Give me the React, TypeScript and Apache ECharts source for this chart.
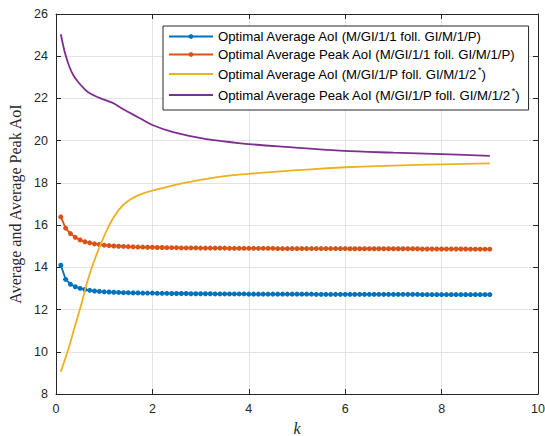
import React, { useEffect, useRef } from "react";
import * as echarts from "echarts";

const kMarked = [
  0.1, 0.2, 0.3, 0.4, 0.5, 0.6, 0.7, 0.8, 0.9, 1.0,
  1.1, 1.2, 1.3, 1.4, 1.5, 1.6, 1.7, 1.8, 1.9, 2.0,
  2.1, 2.2, 2.3, 2.4, 2.5, 2.6, 2.7, 2.8, 2.9, 3.0,
  3.1, 3.2, 3.3, 3.4, 3.5, 3.6, 3.7, 3.8, 3.9, 4.0,
  4.1, 4.2, 4.3, 4.4, 4.5, 4.6, 4.7, 4.8, 4.9, 5.0,
  5.1, 5.2, 5.3, 5.4, 5.5, 5.6, 5.7, 5.8, 5.9, 6.0,
  6.1, 6.2, 6.3, 6.4, 6.5, 6.6, 6.7, 6.8, 6.9, 7.0,
  7.1, 7.2, 7.3, 7.4, 7.5, 7.6, 7.7, 7.8, 7.9, 8.0,
  8.1, 8.2, 8.3, 8.4, 8.5, 8.6, 8.7, 8.8, 8.9, 9.0,
];

const avgAoI_1_1 = [
  14.10, 13.43, 13.20, 13.08, 13.00, 12.95, 12.91, 12.88, 12.86, 12.84,
  12.83, 12.82, 12.81, 12.80, 12.80, 12.79, 12.79, 12.78, 12.78, 12.78,
  12.77, 12.77, 12.77, 12.76, 12.76, 12.76, 12.76, 12.75, 12.75, 12.75,
  12.75, 12.75, 12.74, 12.74, 12.74, 12.74, 12.74, 12.74, 12.74, 12.73,
  12.73, 12.73, 12.73, 12.73, 12.73, 12.73, 12.73, 12.73, 12.73, 12.73,
  12.73, 12.73, 12.73, 12.72, 12.72, 12.72, 12.72, 12.72, 12.72, 12.72,
  12.72, 12.72, 12.72, 12.72, 12.72, 12.72, 12.72, 12.72, 12.72, 12.72,
  12.72, 12.72, 12.72, 12.72, 12.72, 12.71, 12.71, 12.71, 12.71, 12.71,
  12.71, 12.71, 12.71, 12.71, 12.71, 12.71, 12.71, 12.71, 12.71, 12.71,
];

const peakAoI_1_1 = [
  16.39, 15.86, 15.60, 15.42, 15.30, 15.21, 15.16, 15.11, 15.08, 15.05,
  15.03, 15.01, 15.00, 14.99, 14.98, 14.97, 14.96, 14.96, 14.95, 14.95,
  14.94, 14.94, 14.93, 14.93, 14.93, 14.92, 14.92, 14.92, 14.92, 14.91,
  14.91, 14.91, 14.91, 14.91, 14.91, 14.90, 14.90, 14.90, 14.90, 14.90,
  14.90, 14.90, 14.90, 14.90, 14.90, 14.89, 14.89, 14.89, 14.89, 14.89,
  14.89, 14.89, 14.89, 14.89, 14.89, 14.89, 14.89, 14.89, 14.89, 14.89,
  14.88, 14.88, 14.88, 14.88, 14.88, 14.88, 14.88, 14.88, 14.88, 14.88,
  14.88, 14.88, 14.88, 14.88, 14.88, 14.87, 14.87, 14.87, 14.87, 14.87,
  14.87, 14.87, 14.87, 14.87, 14.87, 14.86, 14.86, 14.86, 14.86, 14.86,
];

const kYellow = [0.1, 0.25, 0.39, 0.53, 0.66, 0.8, 0.91, 1.05, 1.12, 1.22, 1.32, 1.46, 1.6, 1.81, 2.0, 2.29, 2.57, 3.0, 3.5, 4.0, 5.0, 6.0, 7.0, 8.0, 9.0];
const avgAoI_P_2 = [9.06, 10.08, 11.19, 12.29, 13.4, 14.35, 15.0, 15.74, 16.06, 16.45, 16.77, 17.08, 17.29, 17.5, 17.63, 17.8, 17.95, 18.14, 18.32, 18.43, 18.6, 18.74, 18.82, 18.88, 18.92];

const kPurple = [0.1, 0.15, 0.2, 0.28, 0.36, 0.46, 0.56, 0.66, 0.8, 0.94, 1.05, 1.2, 1.35, 1.5, 1.74, 2.0, 2.43, 3.12, 4.0, 4.85, 5.89, 7.0, 8.0, 9.0];
const peakAoI_P_2 = [25.04, 24.5, 24.05, 23.49, 23.1, 22.78, 22.52, 22.31, 22.13, 21.99, 21.9, 21.76, 21.55, 21.36, 21.06, 20.74, 20.40, 20.07, 19.84, 19.69, 19.53, 19.43, 19.36, 19.28];

const seriesNames = [
  "Optimal Average AoI (M/GI/1/1 foll. GI/M/1/P)",
  "Optimal Average Peak AoI (M/GI/1/1 foll. GI/M/1/P)",
  "Optimal Average AoI (M/GI/1/P foll. GI/M/1/2*)",
  "Optimal Average Peak AoI (M/GI/1/P foll. GI/M/1/2*)",
];
const colors = ["#0072BD", "#D95319", "#EDB120", "#7E2F8E"];

const zip = (xs: number[], ys: number[]) => xs.map((x, i) => [x, ys[i]]);

export default function App() {
  const ref = useRef<HTMLDivElement>(null);
  useEffect(() => {
    if (!ref.current) return;
    const chart = echarts.init(ref.current, undefined, { renderer: "svg" });
    const axisColor = "#262626";
    const font = "Arial, 'Liberation Sans', Helvetica, sans-serif";
    const serif = "'Liberation Serif', 'Times New Roman', 'DejaVu Serif', serif";
    const baseX = { type: "value", min: 0, max: 10, interval: 2 };
    const baseY = { type: "value", min: 8, max: 26, interval: 2 };
    const axisLine = { show: true, onZero: false, lineStyle: { color: axisColor, width: 1 } };
    const axisTick = { show: true, inside: true, length: 5, lineStyle: { color: axisColor } };
    chart.setOption({
      animation: false,
      backgroundColor: "#ffffff",
      grid: { left: 56, right: 7, top: 14, bottom: 42, containLabel: false, outerBoundsMode: "none" },
      legend: {
        left: 163,
        top: 26,
        orient: "vertical",
        backgroundColor: "#ffffff",
        borderColor: "#262626",
        borderWidth: 1,
        borderRadius: 0,
        padding: [3, 9, 6, 5],
        itemGap: 3,
        itemWidth: 44,
        itemHeight: 6,
        data: [
          { name: seriesNames[0] },
          { name: seriesNames[1] },
          { name: seriesNames[2], itemStyle: { opacity: 0 } },
          { name: seriesNames[3], itemStyle: { opacity: 0 } },
        ],
        formatter: (name: string) => name.replace("2*)", "2{sup|*})"),
        textStyle: {
          fontFamily: font,
          fontSize: 13.2,
          lineHeight: 15,
          color: "#000000",
          rich: {
            sup: { fontFamily: font, fontSize: 9, lineHeight: 9, color: "#000000", padding: [0, 0, 9, 0] },
          },
        },
      },
      xAxis: [
        {
          ...baseX,
          position: "bottom",
          name: "k",
          nameLocation: "middle",
          nameGap: 26,
          nameTextStyle: { fontFamily: serif, fontStyle: "italic", fontSize: 16, color: axisColor },
          axisLine,
          axisTick,
          axisLabel: { fontFamily: font, fontSize: 12.5, color: axisColor, margin: 8 },
          splitLine: { show: true, lineStyle: { color: "#e3e3e3", width: 1 } },
        },
        {
          ...baseX,
          position: "top",
          axisLine,
          axisTick,
          axisLabel: { show: false },
          splitLine: { show: false },
        },
      ],
      yAxis: [
        {
          ...baseY,
          position: "left",
          name: "Average and Average Peak AoI",
          nameLocation: "middle",
          nameGap: 31,
          nameTextStyle: { fontFamily: serif, fontSize: 16, color: axisColor },
          axisLine,
          axisTick,
          axisLabel: { fontFamily: font, fontSize: 12.5, color: axisColor, margin: 8 },
          splitLine: { show: true, lineStyle: { color: "#e3e3e3", width: 1 } },
        },
        {
          ...baseY,
          position: "right",
          axisLine,
          axisTick,
          axisLabel: { show: false },
          splitLine: { show: false },
        },
      ],
      series: [
        {
          name: seriesNames[0],
          type: "line",
          data: zip(kMarked, avgAoI_1_1),
          color: colors[0],
          symbol: "circle",
          symbolSize: 5,
          showSymbol: true,
          lineStyle: { width: 1.8 },
          z: 3,
        },
        {
          name: seriesNames[1],
          type: "line",
          data: zip(kMarked, peakAoI_1_1),
          color: colors[1],
          symbol: "circle",
          symbolSize: 5,
          showSymbol: true,
          lineStyle: { width: 1.8 },
          z: 3,
        },
        {
          name: seriesNames[2],
          type: "line",
          data: zip(kYellow, avgAoI_P_2),
          color: colors[2],
          symbol: "none",
          smooth: 0.5,
          lineStyle: { width: 1.8 },
          z: 4,
        },
        {
          name: seriesNames[3],
          type: "line",
          data: zip(kPurple, peakAoI_P_2),
          color: colors[3],
          symbol: "none",
          smooth: 0.4,
          lineStyle: { width: 1.8 },
          z: 4,
        },
      ],
    });
    return () => chart.dispose();
  }, []);
  return <div ref={ref} style={{ width: 545, height: 436, position: "absolute", left: 0, top: 0 }} />;
}
